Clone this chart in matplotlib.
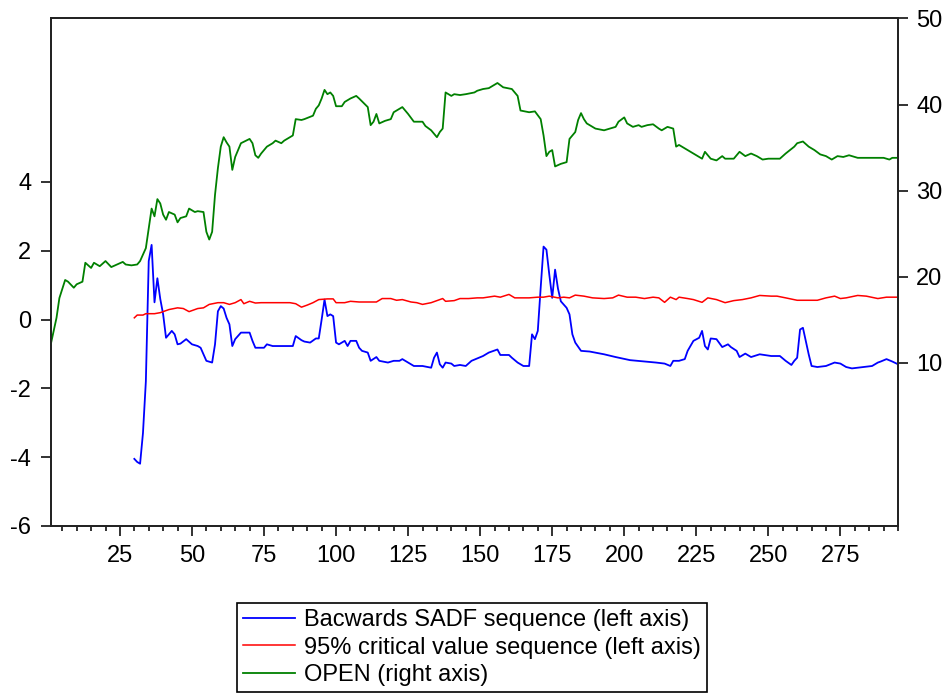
import matplotlib
matplotlib.use("Agg")
import matplotlib.pyplot as plt
from matplotlib.ticker import MultipleLocator

plt.rcParams['font.family'] = ['Liberation Sans', 'DejaVu Sans']
plt.rcParams['axes.unicode_minus'] = False

# OPEN price (right axis)
open_obs = [1, 3, 4, 6, 7, 9, 10, 12, 13, 15, 16, 18, 20, 22, 24, 26, 27, 29, 31, 32,
            34, 35, 36, 37, 38, 39, 40, 41, 42, 44, 45, 46, 48, 49, 51, 52, 54, 55, 56, 57,
            58, 59, 60, 61, 62, 63, 64, 65, 67, 70, 71, 72, 73, 74, 76, 78, 79, 81, 82, 85,
            86, 88, 89, 92, 93, 94, 95, 96, 97, 98, 99, 100, 102, 103, 105, 107, 108, 111, 112, 113,
            114, 115, 117, 119, 120, 123, 125, 127, 130, 131, 133, 135, 136, 137, 138, 140, 141, 143, 145, 148,
            149, 151, 153, 156, 158, 161, 163, 164, 167, 169, 171, 172, 173, 174, 175, 176, 178, 180, 181, 183,
            184, 185, 186, 187, 189, 190, 193, 195, 197, 198, 200, 201, 203, 205, 206, 208, 210, 212, 213, 215,
            217, 218, 219, 221, 222, 224, 227, 228, 230, 232, 234, 235, 238, 240, 242, 244, 246, 248, 250, 254,
            256, 259, 260, 262, 264, 266, 268, 270, 272, 274, 276, 278, 281, 284, 290, 292, 293, 295]
open_val = [12.1, 15.2, 17.5, 19.6, 19.4, 18.7, 19.1, 19.4, 21.6, 21.0, 21.6, 21.2, 21.8, 21.1, 21.4, 21.7, 21.4, 21.3, 21.4, 21.8,
            23.3, 25.6, 27.9, 27.0, 29.0, 28.5, 27.2, 26.6, 27.5, 27.2, 26.3, 26.8, 27.0, 27.9, 27.5, 27.6, 27.5, 25.2, 24.3, 25.2,
            29.5, 32.6, 35.1, 36.2, 35.6, 35.1, 32.4, 33.9, 35.5, 36.0, 35.5, 34.1, 33.8, 34.3, 35.1, 35.5, 35.8, 35.5, 35.8, 36.4,
            38.3, 38.2, 38.3, 38.7, 39.5, 39.9, 40.7, 41.7, 41.2, 41.4, 41.0, 39.8, 39.8, 40.3, 40.7, 41.0, 40.7, 39.7, 37.6, 38.0,
            38.9, 37.8, 38.1, 38.3, 39.1, 39.7, 38.9, 38.0, 38.0, 37.5, 37.0, 36.2, 36.8, 37.2, 41.4, 41.0, 41.2, 41.1, 41.2, 41.4,
            41.6, 41.8, 41.9, 42.5, 42.0, 41.8, 41.0, 39.3, 39.1, 39.2, 38.3, 36.4, 34.0, 34.5, 34.7, 32.8, 33.1, 33.3, 36.0, 36.8,
            38.2, 39.0, 38.3, 37.8, 37.4, 37.2, 37.0, 37.2, 37.4, 38.0, 38.5, 37.8, 37.4, 37.6, 37.4, 37.6, 37.7, 37.2, 37.0, 37.4,
            37.2, 35.1, 35.3, 34.9, 34.7, 34.3, 33.7, 34.5, 33.7, 33.5, 34.0, 33.7, 33.7, 34.5, 34.0, 34.3, 34.0, 33.6, 33.7, 33.7,
            34.3, 35.1, 35.5, 35.7, 35.1, 34.7, 34.2, 34.0, 33.6, 34.0, 33.9, 34.1, 33.8, 33.8, 33.8, 33.6, 33.8, 33.8]

# backwards SADF statistics (left axis)
sadf_obs = [30, 31, 32, 33, 34, 35, 36, 37, 38, 39, 40, 41, 42, 43, 44, 45, 46, 48, 50, 52,
            53, 55, 57, 58, 59, 60, 61, 62, 63, 64, 65, 67, 70, 71, 72, 75, 76, 78, 81, 85,
            86, 88, 89, 91, 93, 94, 95, 96, 97, 98, 99, 100, 101, 103, 104, 105, 107, 108, 109, 111,
            112, 114, 115, 118, 120, 122, 123, 125, 127, 130, 133, 134, 135, 136, 137, 138, 140, 141, 143, 145,
            147, 149, 151, 153, 156, 157, 160, 161, 163, 165, 167, 168, 169, 170, 171, 172, 173, 174, 175, 176,
            177, 178, 180, 181, 182, 183, 185, 188, 193, 197, 202, 207, 211, 214, 216, 217, 219, 221, 222, 224,
            226, 227, 228, 229, 230, 232, 234, 236, 237, 239, 240, 242, 244, 247, 251, 254, 256, 258, 259, 260,
            261, 262, 263, 264, 265, 267, 270, 273, 275, 277, 279, 283, 286, 288, 289, 291, 293, 295]
sadf_val = [-4.05, -4.14, -4.19, -3.3, -1.8, 1.7, 2.17, 0.5, 1.2, 0.6, 0.15, -0.53, -0.43, -0.33, -0.43, -0.72, -0.7, -0.57, -0.72, -0.77,
            -0.82, -1.2, -1.25, -0.72, 0.24, 0.39, 0.32, 0.05, -0.14, -0.77, -0.57, -0.38, -0.38, -0.62, -0.82, -0.82, -0.72, -0.77, -0.77, -0.77,
            -0.48, -0.6, -0.64, -0.67, -0.55, -0.55, 0.0, 0.58, 0.1, 0.15, 0.1, -0.67, -0.72, -0.62, -0.77, -0.62, -0.62, -0.82, -0.91, -0.96,
            -1.2, -1.09, -1.2, -1.25, -1.2, -1.2, -1.15, -1.25, -1.35, -1.35, -1.4, -1.11, -0.96, -1.3, -1.4, -1.25, -1.28, -1.35, -1.32, -1.35,
            -1.2, -1.13, -1.06, -0.96, -0.87, -1.03, -1.03, -1.11, -1.25, -1.35, -1.35, -0.43, -0.57, -0.33, 0.92, 2.12, 2.03, 1.3, 0.63, 1.45,
            0.9, 0.53, 0.34, 0.15, -0.43, -0.67, -0.91, -0.93, -1.01, -1.09, -1.18, -1.22, -1.25, -1.28, -1.35, -1.2, -1.2, -1.15, -0.91, -0.62,
            -0.53, -0.33, -0.77, -0.87, -0.55, -0.57, -0.8, -0.72, -0.8, -0.91, -1.09, -0.99, -1.09, -1.01, -1.06, -1.06, -1.2, -1.32, -1.2, -1.11,
            -0.29, -0.24, -0.62, -1.01, -1.35, -1.38, -1.35, -1.25, -1.28, -1.38, -1.42, -1.38, -1.35, -1.25, -1.22, -1.15, -1.22, -1.3]

# 95% critical values (left axis)
cv_obs = [30, 31, 33, 34, 37, 39, 41, 42, 45, 47, 49, 52, 54, 56, 59, 61, 63, 65, 67, 68,
          70, 72, 74, 77, 81, 84, 86, 88, 90, 92, 94, 97, 99, 100, 103, 105, 108, 112, 114, 116,
          119, 121, 123, 126, 128, 130, 133, 135, 137, 138, 141, 143, 146, 149, 151, 155, 157, 160, 162, 165,
          167, 170, 172, 174, 177, 179, 181, 183, 186, 189, 193, 196, 198, 201, 204, 207, 210, 212, 214, 216,
          218, 219, 222, 224, 227, 229, 232, 235, 238, 241, 244, 247, 251, 253, 256, 260, 263, 267, 270, 273,
          275, 277, 281, 284, 288, 291, 295]
cv_val = [0.05, 0.13, 0.13, 0.17, 0.17, 0.2, 0.26, 0.29, 0.34, 0.32, 0.23, 0.32, 0.34, 0.44, 0.49, 0.49, 0.44, 0.49, 0.58, 0.46,
          0.53, 0.48, 0.49, 0.49, 0.49, 0.49, 0.46, 0.36, 0.42, 0.49, 0.58, 0.6, 0.6, 0.49, 0.49, 0.53, 0.51, 0.51, 0.51, 0.61,
          0.61, 0.56, 0.58, 0.51, 0.49, 0.44, 0.49, 0.55, 0.61, 0.53, 0.55, 0.61, 0.61, 0.63, 0.63, 0.68, 0.65, 0.73, 0.63, 0.63,
          0.63, 0.65, 0.65, 0.68, 0.63, 0.65, 0.63, 0.71, 0.68, 0.63, 0.61, 0.63, 0.71, 0.65, 0.65, 0.61, 0.65, 0.63, 0.5, 0.65,
          0.58, 0.65, 0.61, 0.58, 0.5, 0.63, 0.58, 0.49, 0.55, 0.58, 0.63, 0.7, 0.68, 0.68, 0.63, 0.56, 0.56, 0.56, 0.63, 0.68,
          0.61, 0.63, 0.7, 0.68, 0.61, 0.65, 0.65]

left_ticks = [-6, -4, -2, 0, 2, 4]
right_ticks = [10, 20, 30, 40, 50]
x_major = [25, 50, 75, 100, 125, 150, 175, 200, 225, 250, 275]

fig = plt.figure(figsize=(9.45, 6.95), dpi=100)
ax = fig.add_axes([0.0537, 0.2432, 0.8966, 0.7302])
ax2 = ax.twinx()

l1, = ax.plot(sadf_obs, sadf_val, color='#0000ff', lw=1.3)
l2, = ax.plot(cv_obs, cv_val, color='#ff0000', lw=1.1)
l3, = ax2.plot(open_obs, open_val, color='#008000', lw=1.3)

ax.set_xlim(1, 295)
ax.set_ylim(-6, 8.75)
ax2.set_ylim(-9, 50)
ax.set_yticks(left_ticks)
ax2.set_yticks(right_ticks)
ax.set_xticks(x_major)
ax.xaxis.set_minor_locator(MultipleLocator(5))

for a in (ax, ax2):
    for s in a.spines.values():
        s.set_linewidth(1.3)
        s.set_color('#222222')

ax.tick_params(axis='both', which='major', length=7, width=1.3, labelsize=17, color='#222222')
ax.tick_params(axis='x', which='minor', length=3.5, width=1.3, color='#222222')
ax.tick_params(axis='x', pad=7)
ax.tick_params(axis='y', pad=7)
ax2.tick_params(axis='y', length=7, width=1.3, labelsize=17, pad=6, color='#222222')

fig.legend([l1, l2, l3],
           ['Bacwards SADF sequence (left axis)',
            '95% critical value sequence (left axis)',
            'OPEN (right axis)'],
           loc='upper left', bbox_to_anchor=(0.2508, 0.1324), borderaxespad=0,
           fontsize=17, frameon=True, fancybox=False, edgecolor='black',
           framealpha=1, handlelength=2.2, handletextpad=0.38, labelspacing=0.24,
           borderpad=0.25)
fig.legends[0].get_frame().set_linewidth(1.2)

fig.savefig('out.png', dpi=100)
